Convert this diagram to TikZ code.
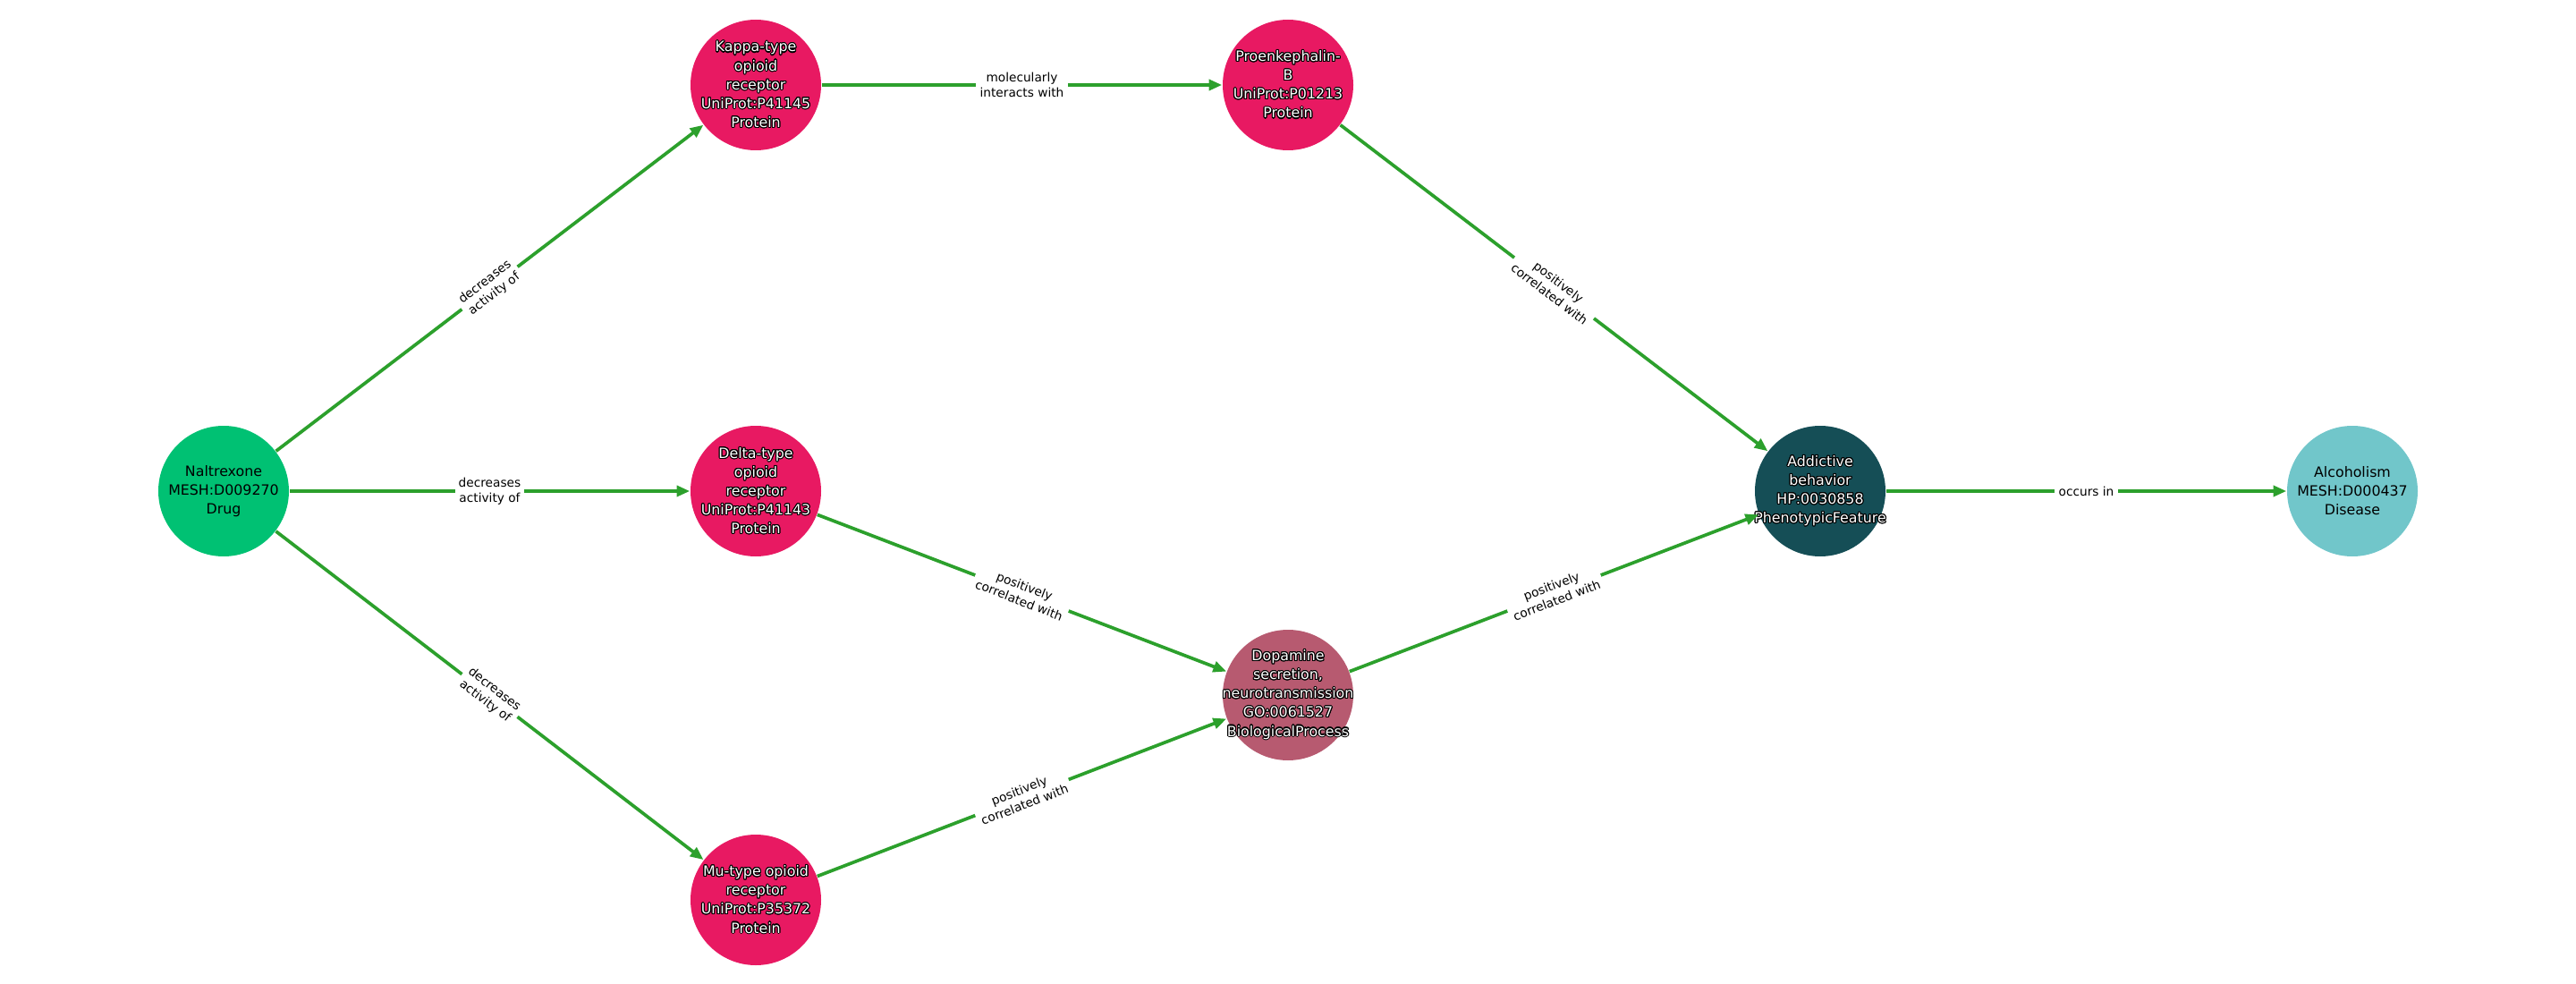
\documentclass[tikz,border=0pt]{standalone}
\usepackage{fontspec}
\setmainfont{DejaVu Sans}
\usepackage[copies]{contour}
\contourlength{0.3pt}
\usetikzlibrary{arrows.meta}
\definecolor{drugcol}{RGB}{0,193,115}
\definecolor{protcol}{RGB}{232,25,98}
\definecolor{proccol}{RGB}{183,90,112}
\definecolor{phencol}{RGB}{21,78,86}
\definecolor{discol}{RGB}{113,198,202}
\definecolor{edgecol}{RGB}{44,160,44}
\newcommand{\wl}[1]{\contour{black}{\color{white}#1}}
\tikzset{ bio/.style={circle,minimum size=1.46cm,inner sep=0pt},
  biotext/.style={align=center,inner sep=0pt,font=\fontsize{4.5}{6}\selectfont},
  rel/.style={fill=white,inner sep=1.2pt,align=center,sloped,midway,font=\fontsize{3.9}{4.8}\selectfont},
  link/.style={draw=edgecol,line width=1.05pt,-{Triangle[length=4.2pt,width=3.4pt]}}}

\begin{document}
\begin{tikzpicture}
  \useasboundingbox (0,0) rectangle (28.8,-11);
  \foreach \pos/\name/\col/\txt in {{(2.50,-5.49)/nal/drugcol/{Naltrexone\\MESH:D009270\\Drug}},
      {(8.45,-0.95)/kappa/protcol/{\wl{Kappa-type}\\\wl{opioid}\\\wl{receptor}\\\wl{UniProt:P41145}\\\wl{Protein}}},
      {(8.45,-5.49)/delta/protcol/{\wl{Delta-type}\\\wl{opioid}\\\wl{receptor}\\\wl{UniProt:P41143}\\\wl{Protein}}},
      {(8.45,-10.06)/mu/protcol/{\wl{Mu-type opioid}\\\wl{receptor}\\\wl{UniProt:P35372}\\\wl{Protein}}},
      {(14.40,-0.95)/penk/protcol/{\wl{Proenkephalin-}\\\wl{B}\\\wl{UniProt:P01213}\\\wl{Protein}}},
      {(14.40,-7.77)/dopa/proccol/{\wl{Dopamine}\\\wl{secretion,}\\\wl{neurotransmission}\\\wl{GO:0061527}\\\wl{BiologicalProcess}}},
      {(20.35,-5.49)/addict/phencol/{\wl{Addictive}\\\wl{behavior}\\\wl{HP:0030858}\\\wl{PhenotypicFeature}}},
      {(26.30,-5.49)/alco/discol/{Alcoholism\\MESH:D000437\\Disease}}}
        \node[bio,fill=\col,label={[biotext]center:{\txt}}] (\name) at \pos {};
   \foreach \from/\to/\lbl in {nal/kappa/{decreases\\activity of}, nal/delta/{decreases\\activity of},
      nal/mu/{decreases\\activity of}, kappa/penk/{molecularly\\interacts with},
      penk/addict/{positively\\correlated with}, delta/dopa/{positively\\correlated with},
      mu/dopa/{positively\\correlated with}, dopa/addict/{positively\\correlated with},
      addict/alco/{occurs in}}
	\draw[link] (\from) -- node[rel] {\lbl} (\to);
\end{tikzpicture}
\end{document}
